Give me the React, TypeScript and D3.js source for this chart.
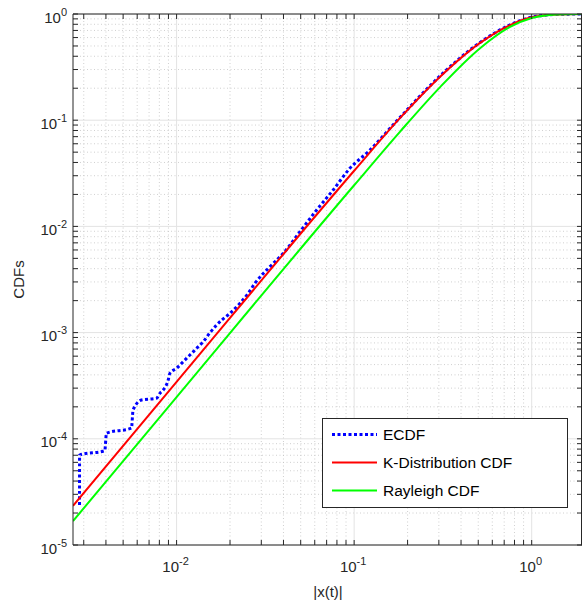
import * as d3 from 'd3';

// model curves, sampled at these |x(t)| values
const modelX = [0.00261, 0.01, 0.1, 0.181, 0.304, 0.512, 0.755, 1.0, 1.39, 1.92];
const kDistY = [2.34e-5, 3.43e-4, 0.0334, 0.1045, 0.2555, 0.5346, 0.787, 0.931, 0.991, 0.9995];
const rayleighY = [1.68e-5, 2.47e-4, 0.0244, 0.0777, 0.204, 0.4765, 0.7553, 0.9154, 0.9915, 0.9999];

// empirical CDF (steps at the low end)
const ecdfX = [0.00284, 0.002842, 0.00394, 0.00403, 0.00557, 0.00569, 0.00635, 0.00771, 0.00805, 0.00841, 0.00897, 0.00917, 0.01, 0.01089, 0.01189, 0.01297, 0.01413, 0.01542, 0.01794, 0.02, 0.02276, 0.02531, 0.02761, 0.03357, 0.0399, 0.0495, 0.0615, 0.0762, 0.0946, 0.12, 0.181, 0.304, 0.512, 0.755, 1.0, 1.39, 1.92];
const ecdfY = [2.38e-5, 7.03e-5, 7.73e-5, 1.13e-4, 1.26e-4, 1.87e-4, 2.32e-4, 2.41e-4, 2.68e-4, 2.88e-4, 3.58e-4, 4.14e-4, 4.61e-4, 5.32e-4, 6.15e-4, 7.11e-4, 8.2e-4, 9.98e-4, 1.31e-3, 1.52e-3, 1.89e-3, 2.34e-3, 2.91e-3, 4.18e-3, 5.58e-3, 8.91e-3, 0.01426, 0.02203, 0.0352, 0.0505, 0.106, 0.26, 0.54, 0.79, 0.933, 0.992, 1.0];

const xTickExps = [-2, -1, 0];
const yTickExps = [-5, -4, -3, -2, -1, 0];
const legendLabels = ['ECDF', 'K-Distribution CDF', 'Rayleigh CDF'];

const W = 582;
const H = 604;
const plot = { left: 73, right: 582, top: 14, bottom: 545 };
const axisColor = '#262626';
const font = '"Liberation Sans", Arial, Helvetica, sans-serif';

const App = () => {
  const xScale = d3.scaleLog().domain([0.00261, 1.92]).range([plot.left, plot.right]);
  const yScale = d3.scaleLog().domain([1e-5, 1]).range([plot.bottom, plot.top]);

  const inX = (v: number) => v >= 0.00261 && v <= 1.92;
  const xMinor: number[] = [];
  for (let e = -3; e <= 0; e++) for (let k = 2; k <= 9; k++) if (inX(k * 10 ** e)) xMinor.push(k * 10 ** e);
  const yMinor: number[] = [];
  for (let e = -5; e < 0; e++) for (let k = 2; k <= 9; k++) yMinor.push(k * 10 ** e);

  const lineFor = (ys: number[]) =>
    d3.line<number>()
      .x(d => xScale(d))
      .y((_, i) => yScale(ys[i]))
      .curve(d3.curveMonotoneX);
  const kPath = lineFor(kDistY)(modelX) || '';
  const rPath = lineFor(rayleighY)(modelX) || '';
  const ePath = lineFor(ecdfY)(ecdfX) || '';

  const tick = 5;
  const legendColors = ['#0000ff', '#ff0000', '#00ff00'];

  return (
    <svg width={W} height={H} style={{ position: 'absolute', left: 0, top: 0 }} fontFamily={font}>
      <rect x={0} y={0} width={W} height={H} fill="#fff" />
      <defs>
        <clipPath id="plotClip">
          <rect x={plot.left} y={plot.top} width={plot.right - plot.left} height={plot.bottom - plot.top} />
        </clipPath>
      </defs>
      {/* minor grid */}
      {xMinor.map(v => (
        <line key={'xm' + v} x1={xScale(v)} x2={xScale(v)} y1={plot.top} y2={plot.bottom} stroke="#c4c4c4" strokeWidth={0.8} strokeDasharray="1 2.5" />
      ))}
      {yMinor.map(v => (
        <line key={'ym' + v} x1={plot.left} x2={plot.right} y1={yScale(v)} y2={yScale(v)} stroke="#c4c4c4" strokeWidth={0.8} strokeDasharray="1 2.5" />
      ))}
      {/* major grid */}
      {xTickExps.map(e => (
        <line key={'xg' + e} x1={xScale(10 ** e)} x2={xScale(10 ** e)} y1={plot.top} y2={plot.bottom} stroke="#e3e3e3" strokeWidth={1} />
      ))}
      {yTickExps.map(e => (
        <line key={'yg' + e} x1={plot.left} x2={plot.right} y1={yScale(10 ** e)} y2={yScale(10 ** e)} stroke="#e3e3e3" strokeWidth={1} />
      ))}

      <g clipPath="url(#plotClip)" fill="none">
        <path d={ePath} stroke="#0000ff" strokeWidth={3} strokeDasharray="3 2.5" />
        <path d={kPath} stroke="#ff0000" strokeWidth={2} />
        <path d={rPath} stroke="#00ff00" strokeWidth={2} />
      </g>

      {/* axes box and ticks */}
      <g stroke={axisColor} strokeWidth={1}>
        <line x1={plot.left} x2={plot.right} y1={plot.bottom} y2={plot.bottom} />
        <line x1={plot.left} x2={plot.right} y1={plot.top} y2={plot.top} />
        <line x1={plot.left} x2={plot.left} y1={plot.top} y2={plot.bottom} />
        <line x1={plot.right - 0.5} x2={plot.right - 0.5} y1={plot.top} y2={plot.bottom} />
        {[...xMinor, ...xTickExps.map(e => 10 ** e)].map(v => (
          <g key={'xt' + v}>
            <line x1={xScale(v)} x2={xScale(v)} y1={plot.bottom} y2={plot.bottom - tick} />
            <line x1={xScale(v)} x2={xScale(v)} y1={plot.top} y2={plot.top + tick} />
          </g>
        ))}
        {[...yMinor, ...yTickExps.map(e => 10 ** e)].map(v => (
          <g key={'yt' + v}>
            <line x1={plot.left} x2={plot.left + tick} y1={yScale(v)} y2={yScale(v)} />
            <line x1={plot.right} x2={plot.right - tick} y1={yScale(v)} y2={yScale(v)} />
          </g>
        ))}
      </g>

      {/* tick labels */}
      {xTickExps.map(e => (
        <text key={'xl' + e} x={xScale(10 ** e) - 1} y={572} textAnchor="middle" fontSize={15} fill={axisColor}>
          10<tspan fontSize={11} dy={-7}>{e}</tspan>
        </text>
      ))}
      {yTickExps.map(e => (
        <text key={'yl' + e} x={67} y={yScale(10 ** e) + 8.5} textAnchor="end" fontSize={15} fill={axisColor}>
          10<tspan fontSize={11} dy={-7}>{e}</tspan>
        </text>
      ))}

      {/* axis titles */}
      <text x={328} y={597} textAnchor="middle" fontSize={15} fill={axisColor}>|x(t)|</text>
      <text transform={`translate(24, ${(plot.top + plot.bottom) / 2}) rotate(-90)`} textAnchor="middle" fontSize={15} fill={axisColor}>CDFs</text>

      {/* legend */}
      <g>
        <rect x={322.5} y={418.5} width={245} height={89} fill="#fff" stroke={axisColor} strokeWidth={1} />
        {legendLabels.map((label, i) => {
          const cy = 434.5 + i * 28;
          return (
            <g key={label}>
              <line x1={332} x2={377} y1={cy} y2={cy} stroke={legendColors[i]}
                strokeWidth={i === 0 ? 3 : 2} strokeDasharray={i === 0 ? '3 2.5' : undefined} />
              <text x={383} y={cy + 5.5} fontSize={15.5} fill="#000">{label}</text>
            </g>
          );
        })}
      </g>
    </svg>
  );
};

export default App;
